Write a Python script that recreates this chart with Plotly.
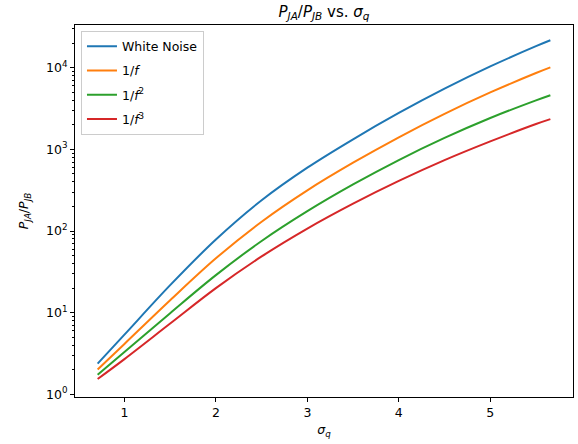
import plotly.graph_objects as go

sigma_q = [0.707, 1.0, 1.5, 2.0, 2.5, 3.0, 3.5, 4.0, 4.5, 5.0, 5.5, 5.657]
white_noise = [2.38, 5.38, 21.7, 78.7, 238, 597, 1329, 2793, 5541, 10375, 18346, 21677]
one_over_f = [2.01, 4.14, 14.2, 46.3, 130, 315, 686, 1406, 2723, 4977, 8600, 10090]
one_over_f2 = [1.74, 3.30, 9.86, 28.8, 75.5, 175, 372, 740, 1380, 2421, 3981, 4603]
one_over_f3 = [1.54, 2.70, 7.35, 19.95, 48.8, 107, 216, 410, 737, 1250, 2042, 2344]

series_names = ["White Noise", "1/<i>f</i>", "1/<i>f</i><sup>2</sup>", "1/<i>f</i><sup>3</sup>"]
series_values = [white_noise, one_over_f, one_over_f2, one_over_f3]
colors = ["#1f77b4", "#ff7f0e", "#2ca02c", "#d62728"]

y_tickvals = [1, 10, 100, 1000, 10000]
y_ticktext = ["10<sup>0</sup>", "10<sup>1</sup>", "10<sup>2</sup>", "10<sup>3</sup>", "10<sup>4</sup>"]
y_minor = [m * 10 ** e for e in range(0, 5) for m in range(2, 10)]
x_tickvals = [1, 2, 3, 4, 5]

fig = go.Figure()
for i, (name, vals, col) in enumerate(zip(series_names, series_values, colors)):
    fig.add_trace(go.Scatter(x=sigma_q, y=vals, mode="lines", name=name, legendgroup=f"g{i}",
                             line=dict(color=col, width=2, shape="spline", smoothing=1.0)))

font = "DejaVu Sans"
fig.update_layout(
    width=578, height=444,
    margin=dict(l=75, r=5, t=25, b=47),
    paper_bgcolor="white", plot_bgcolor="white",
    font=dict(family=font, size=12.5, color="#000"),
    title=dict(text="<i>P</i><sub><i>JA</i></sub>/<i>P</i><sub><i>JB</i></sub> vs. <i>σ</i><sub><i>q</i></sub>",
               x=(75 + 573) / 2 / 578, xanchor="center", y=1 - 12 / 444, yanchor="middle",
               font=dict(family=font, size=15)),
    showlegend=True,
    legend=dict(x=0.012, y=0.985, xanchor="left", yanchor="top",
                bgcolor="rgba(255,255,255,0.8)", bordercolor="#cccccc", borderwidth=1,
                font=dict(family=font, size=12.5), tracegroupgap=5),
)
fig.update_xaxes(
    range=[0.4595, 5.9045], tickvals=x_tickvals, ticks="outside", ticklen=4, tickwidth=1,
    tickcolor="#000", showline=True, linecolor="#000", linewidth=1, mirror=True,
    showgrid=False, zeroline=False,
    title=dict(text="<i>σ</i><sub><i>q</i></sub>", font=dict(family=font, size=12.5), standoff=6),
)
fig.update_yaxes(
    type="log", range=[-0.033, 4.523], tickmode="array", tickvals=y_tickvals, ticktext=y_ticktext,
    ticks="outside", ticklen=4, tickwidth=1, tickcolor="#000",
    minor=dict(tickmode="array", tickvals=y_minor, ticks="outside", ticklen=2, tickcolor="#000", showgrid=False),
    showline=True, linecolor="#000", linewidth=1, mirror=True, showgrid=False, zeroline=False,
    title=dict(text="<i>P</i><sub><i>JA</i></sub>/<i>P</i><sub><i>JB</i></sub>", font=dict(family=font, size=12.5), standoff=14),
)

fig.write_html("out.html")
